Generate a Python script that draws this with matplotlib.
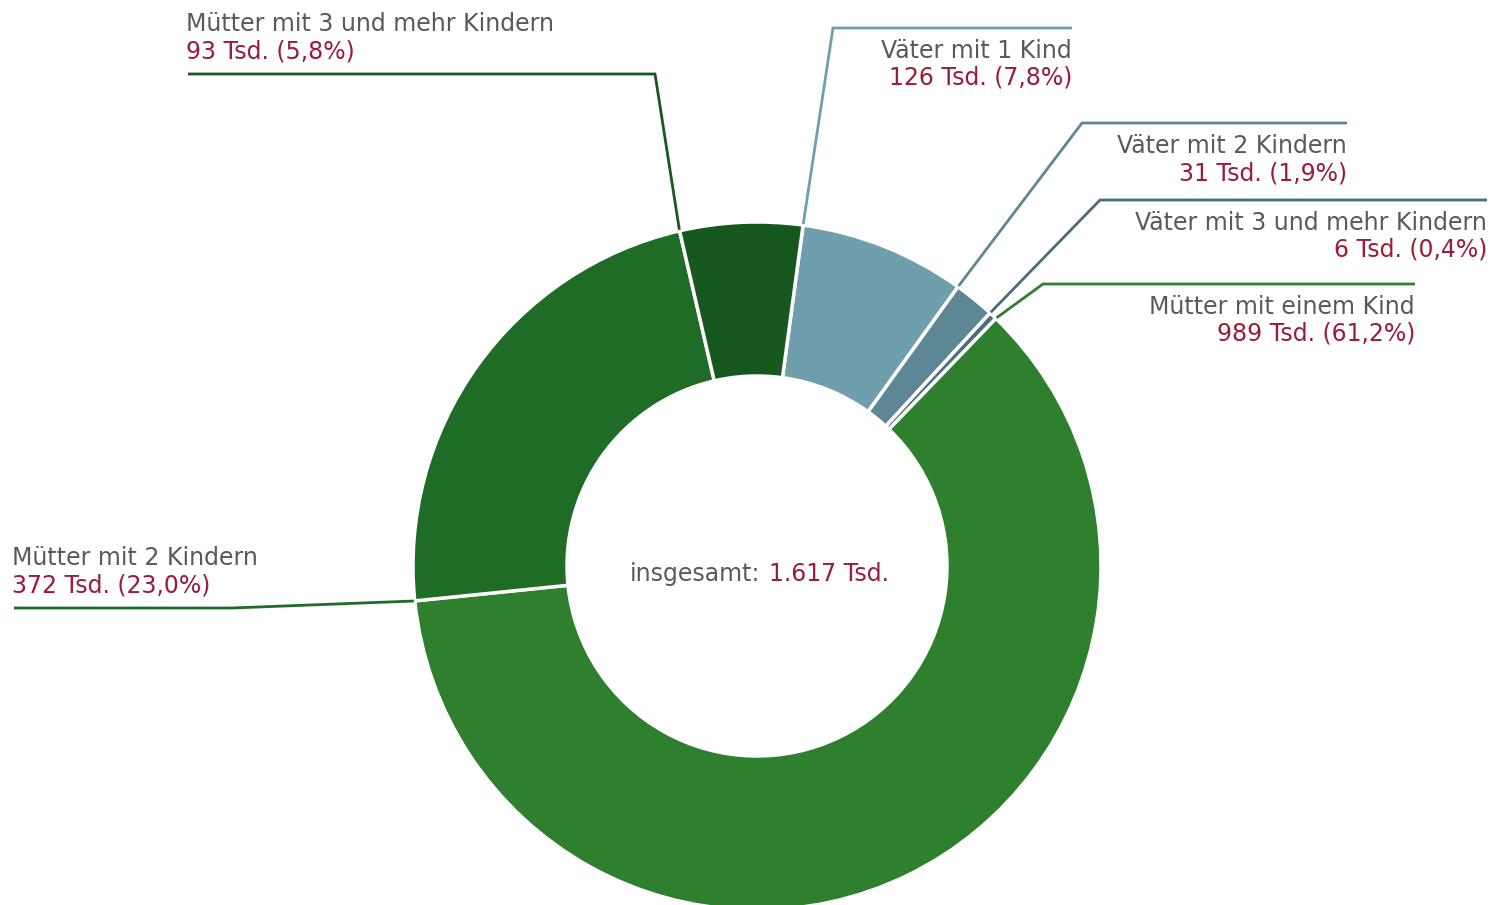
import numpy as np
import matplotlib
matplotlib.use("Agg")
import matplotlib.pyplot as plt

# data (Tsd.) in clockwise order starting right of 12 o'clock
categories = ["Väter mit 1 Kind", "Väter mit 2 Kindern", "Väter mit 3 und mehr Kindern",
              "Mütter mit einem Kind", "Mütter mit 2 Kindern", "Mütter mit 3 und mehr Kindern"]
values = [126, 31, 6, 989, 372, 93]
shares = [7.8, 1.9, 0.4, 61.2, 23.0, 5.8]
total = 1617

colors = ["#6f9ead", "#5e8795", "#4b6c7a", "#2e7f2e", "#1f6c26", "#17581f"]
GRAY = "#595959"
RED = "#9b1c3a"
FS = 17

W, H = 1490, 905
fig = plt.figure(figsize=(W / 100, H / 100), dpi=100)
ax = fig.add_axes([0, 0, 1, 1])


def py(y):
    return H - y


cx, cy, r_out, r_in = 757, py(566), 344, 190
start = 82.3

wedges, _ = ax.pie(values, colors=colors, startangle=start, counterclock=False,
                   radius=r_out, center=(cx, cy), frame=True,
                   wedgeprops=dict(width=r_out - r_in, edgecolor="white", linewidth=2.5))
ax.set_xlim(0, W)
ax.set_ylim(0, H)
ax.set_aspect("equal")
ax.axis("off")

# leader layout: elbow point and line end (pixels)
elbows = [(833, 28), (1082, 123), (1100, 200), (1043, 284), (232, 608), (655, 74)]
ends = [1072, 1347, 1487, 1415, 14, 188]

frac = np.array(values) / sum(values)
cum = np.concatenate([[0], np.cumsum(frac)[:-1]])
for i, lab in enumerate(categories):
    ang = np.deg2rad(start - cum[i] * 360)
    x0, y0 = cx + (r_out + 1) * np.cos(ang), cy + (r_out + 1) * np.sin(ang)
    ex, ey = elbows[i]
    ax.plot([x0, ex, ends[i]], [y0, py(ey), py(ey)], color=colors[i], lw=2,
            solid_joinstyle="miter", solid_capstyle="butt", zorder=1)
    pct = f"{shares[i]:.1f}".replace(".", ",")
    val = f"{values[i]} Tsd. ({pct}%)"
    if ends[i] > ex:
        ax.text(ends[i], py(ey + 23), lab, ha="right", va="center", color=GRAY, fontsize=FS)
        ax.text(ends[i], py(ey + 50), val, ha="right", va="center", color=RED, fontsize=FS)
    else:
        ax.text(ends[i] - 2, py(ey - 50), lab, ha="left", va="center", color=GRAY, fontsize=FS)
        ax.text(ends[i] - 2, py(ey - 23), val, ha="left", va="center", color=RED, fontsize=FS)

ax.text(760, py(574), "insgesamt:", ha="right", va="center", color=GRAY, fontsize=FS)
ax.text(769, py(574), f"{total / 1000:.3f} Tsd.", ha="left", va="center", color=RED, fontsize=FS)

fig.savefig("out.png", dpi=100)
